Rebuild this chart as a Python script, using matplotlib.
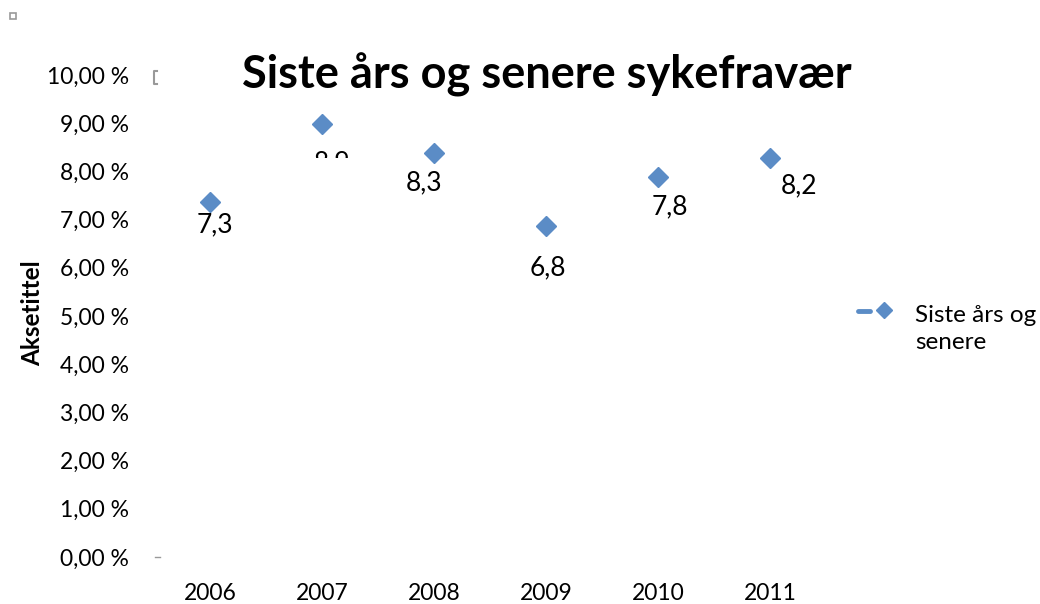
import matplotlib
matplotlib.use("Agg")
import matplotlib.pyplot as plt
from matplotlib.transforms import Bbox, TransformedBbox
from matplotlib.lines import Line2D
from matplotlib.patches import Rectangle

years = ["2006", "2007", "2008", "2009", "2010", "2011"]
values = [7.37, 8.99, 8.38, 6.87, 7.88, 8.28]
labels = ["7,3", "8,9", "8,3", "6,8", "7,8", "8,2"]
yticks = [0, 1, 2, 3, 4, 5, 6, 7, 8, 9, 10]
ytick_labels = ["0,00 %", "1,00 %", "2,00 %", "3,00 %", "4,00 %", "5,00 %",
                "6,00 %", "7,00 %", "8,00 %", "9,00 %", "10,00 %"]
series_name = "Siste års og\nsenere"

# label offsets in pixels (layout only)
offsets = [(5, -23), (10, -39), (-10, -30), (2, -42), (12, -30), (29, -28)]

plt.rcParams["font.family"] = ["Lato", "DejaVu Sans"]
color = "#5B8CC6"
W, H = 1040, 604

fig = plt.figure(figsize=(10.4, 6.04), dpi=100)
ax = fig.add_axes([154 / W, 47 / H, 672 / W, 482 / H])

x = list(range(len(years)))
ax.plot(x, values, linestyle="none", marker="D", markersize=10.5, color=color)

ax.set_xlim(-0.5, len(years) - 0.5)
ax.set_ylim(0, 10)
ax.set_xticks(x)
ax.set_xticklabels(years, fontsize=16.5)
ax.set_yticks(yticks)
ax.set_yticklabels(ytick_labels, fontsize=16.5)
ax.tick_params(length=0)
ax.tick_params(axis="x", pad=19)
ax.tick_params(axis="y", pad=18)
for s in ax.spines.values():
    s.set_visible(False)

fig.text(33 / W, 1 - 313 / H, "Aksetittel", rotation=90, ha="center",
         va="center", fontsize=17.5, fontweight="bold")

clip = TransformedBbox(Bbox([[0, (H - 158) / H], [1, 1]]), fig.transFigure)
for i, (v, lab) in enumerate(zip(values, labels)):
    t = ax.annotate(lab, (x[i], v), xytext=offsets[i], textcoords="offset pixels",
                    ha="center", va="center", fontsize=19, annotation_clip=False)
    if i == 1:
        t.set_clip_on(True)
        t.set_clip_box(clip)

fig.text(547 / W, 1 - 75 / H, "Siste års og senere sykefravær",
         ha="center", va="center", fontsize=32.5, fontweight="bold")

# legend drawn by hand: short dash + diamond, then wrapped text
fig.add_artist(Line2D([858 / W, 870 / W], [1 - 311 / H, 1 - 311 / H],
                      color=color, linewidth=3.5, solid_capstyle="round"))
fig.add_artist(Line2D([884 / W], [1 - 310 / H], color=color, marker="D",
                      markersize=8, linestyle="none"))
fig.text(915 / W, 1 - 329 / H, series_name, ha="left", va="center",
         fontsize=17.5, linespacing=1.3)

# small grey placeholders seen in the source image
fig.add_artist(Rectangle((10 / W, 1 - 19 / H), 6 / W, 6 / H, fill=False,
                         edgecolor="#999999", linewidth=1.2))
fig.add_artist(Line2D([157 / W, 154 / W, 154 / W, 157 / W],
                      [1 - 71 / H, 1 - 71 / H, 1 - 84 / H, 1 - 84 / H],
                      color="#999999", linewidth=1.5))
fig.add_artist(Line2D([155 / W, 160 / W], [1 - 557 / H, 1 - 557 / H],
                      color="#999999", linewidth=1))

fig.savefig("out.png", dpi=100)
